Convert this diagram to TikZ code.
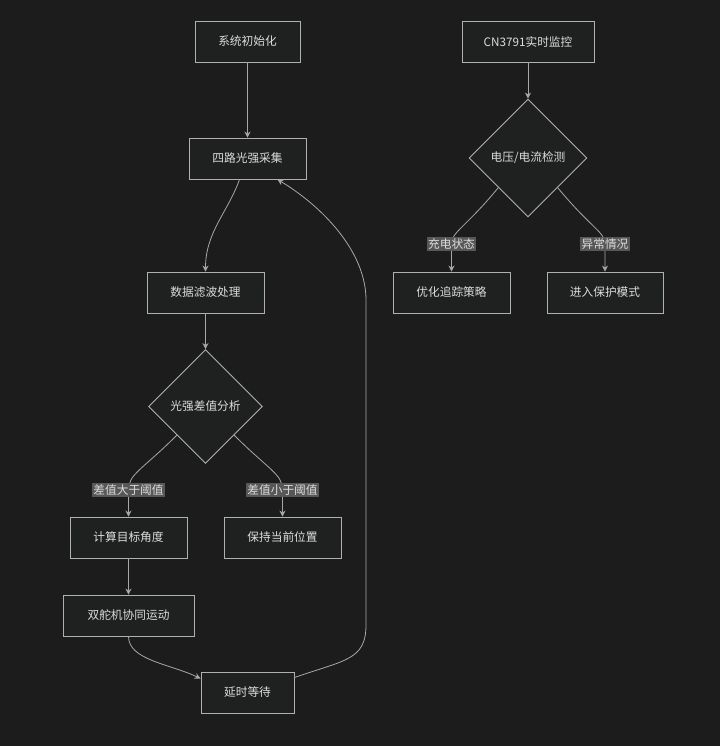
\documentclass[tikz,border=0pt]{standalone}
\usepackage{fontspec}
\setmainfont{Noto Sans CJK SC}
\usetikzlibrary{shapes.geometric,arrows.meta,calc}
\definecolor{bg}{HTML}{1C1C1C}
\definecolor{nodefill}{HTML}{1F2020}
\definecolor{nodeline}{HTML}{B0B0B0}
\definecolor{edgeline}{HTML}{A8A8A8}
\definecolor{txt}{HTML}{DCDCDC}
\definecolor{lblfill}{HTML}{575757}
\tikzset{
  box/.style={draw=nodeline, fill=nodefill, line width=0.9pt, minimum height=41pt, inner sep=0pt, text=txt, font=\fontsize{11.7}{13}\selectfont},
  dia/.style={diamond, draw=nodeline, fill=nodefill, line width=0.9pt, minimum width=114pt, minimum height=114pt, inner sep=0pt, aspect=1, text=txt, font=\fontsize{11.7}{13}\selectfont},
  lbl/.style={fill=lblfill, text=txt, inner sep=1.5pt, font=\fontsize{11.7}{13}\selectfont},
  arr/.style={draw=edgeline, line width=0.8pt, -{Stealth[length=6pt,width=6pt]}},
}
\begin{document}
\begin{tikzpicture}[x=1pt,y=-1pt]
\fill[bg] (0,0) rectangle (720,746);
\useasboundingbox (0,0) rectangle (720,746);
% left column
\node[box, minimum width=105pt] (n1) at (247.5,41.5) {系统初始化};
\node[box, minimum width=117pt] (n2) at (247.5,158.5) {四路光强采集};
\node[box, minimum width=117pt] (n3) at (205.5,292.5) {数据滤波处理};
\node[dia] (d1) at (205.5,406.5) {光强差值分析};
\node[box, minimum width=117pt] (n5) at (128.5,537.5) {计算目标角度};
\node[box, minimum width=117pt] (n6) at (282.5,537.5) {保持当前位置};
\node[box, minimum width=131pt] (n7) at (128.5,615.5) {双舵机协同运动};
\node[box, minimum width=93pt] (n9) at (247.5,692.5) {延时等待};
% right column
\node[box, minimum width=132pt] (m1) at (528,41.5) {CN3791实时监控};
\node[dia, minimum width=118pt, minimum height=118pt] (d2) at (528,158) {电压/电流检测};
\node[box, minimum width=117pt] (m3) at (451.5,292.5) {优化追踪策略};
\node[box, minimum width=116pt] (m4) at (605,292.5) {进入保护模式};
% label positions
\coordinate (c1) at (128.5,490);
\coordinate (c2) at (282.5,490);
\coordinate (c3) at (451.5,244);
\coordinate (c4) at (605,244);
% edges
\draw[arr] (n1) -- (n2);
\draw[arr] ($(n2.south)+(-8,0)$) .. controls (228,212) and (205.5,232) .. (n3.north);
\draw[arr] (n3) -- (d1);
\draw[arr] (d1.south west) .. controls (142,470) and (128.5,474) .. (c1) -- (n5.north);
\draw[arr] (d1.south east) .. controls (269,470) and (282.5,474) .. (c2) -- (n6.north);
\draw[arr] (n5) -- (n7);
\draw[arr] (n7.south) .. controls (128.5,660) and (170,664) .. ($(n9.west)+(0,-14)$);
\draw[arr] ($(n9.east)+(0,-15)$) .. controls (345,660) and (366,660) .. (366,625) -- (366,300) .. controls (366,250) and (320,205) .. ($(n2.south)+(30,0)$);
\draw[arr] (m1) -- (d2);
\draw[arr] (d2.south west) .. controls (465,228) and (451.5,232) .. (c3) -- (m3.north);
\draw[arr] (d2.south east) .. controls (591,228) and (605,232) .. (c4) -- (m4.north);
% labels
\node[lbl] (l1) at (c1) {差值大于阈值};
\node[lbl] (l2) at (c2) {差值小于阈值};
\node[lbl] (l3) at (c3) {充电状态};
\node[lbl] (l4) at (c4) {异常情况};
\end{tikzpicture}
\end{document}
